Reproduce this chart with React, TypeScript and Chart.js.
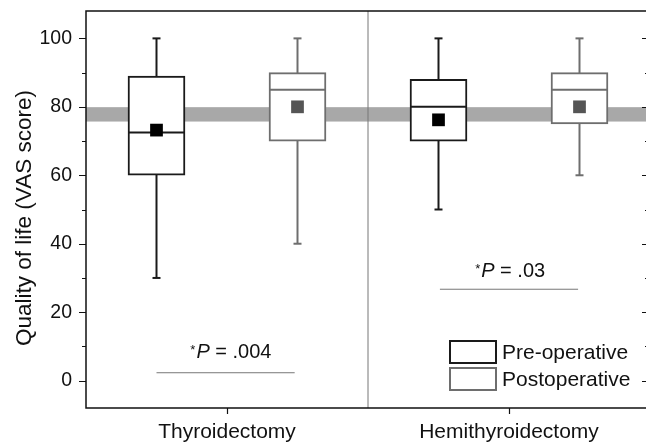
import { useEffect, useRef } from 'react';
import { Chart, registerables } from 'chart.js';

Chart.register(...registerables);

const FONT = '"Liberation Sans", Arial, sans-serif';

// ---- data ----
const categories = ['Thyroidectomy', 'Hemithyroidectomy'];
const categoryPositions = [1, 3];
const boxPositions = [0.5, 1.5, 2.5, 3.5];
const boxGroups = ['Pre-operative', 'Postoperative', 'Pre-operative', 'Postoperative'];
const whiskerLow = [30, 40, 50, 60];
const q1 = [60, 70, 70, 75];
const median = [72.5, 85, 80, 85];
const q3 = [89, 90, 88, 90];
const whiskerHigh = [100, 100, 100, 100];
const means = [73.2, 80, 76.2, 80];
const referenceBand = [75.7, 79.9];
const yTicks = [0, 20, 40, 60, 80, 100];
const yMinorTicks = [10, 30, 50, 70, 90];
const dividerX = 2;
const pValues = ['.004', '.03'];
const pTextX = [0.74, 2.76];
const pTextY = [6.5, 30.4];
const pLineX = [[0.5, 1.48], [2.51, 3.49]];
const pLineY = [2.3, 26.7];
const legendLabels = ['Pre-operative', 'Postoperative'];
const yTitle = 'Quality of life (VAS score)';

const PRE = '#1a1a1a';
const POST = '#6e6e6e';
const boxColors = boxGroups.map((g) => (g === 'Pre-operative' ? PRE : POST));
const meanColors = boxGroups.map((g) => (g === 'Pre-operative' ? '#000000' : '#555555'));

const zeroPad = (s: any) => {
  s.paddingLeft = 0;
  s.paddingRight = 0;
  s.paddingTop = 0;
  s.paddingBottom = 0;
};

const decorPlugin = {
  id: 'decor',
  beforeDatasetsDraw(chart: any) {
    const { ctx, chartArea: a, scales } = chart;
    const y = scales.y;
    const yt = y.getPixelForValue(referenceBand[1]);
    const yb = y.getPixelForValue(referenceBand[0]);
    ctx.save();
    ctx.fillStyle = '#a8a8a8';
    ctx.fillRect(a.left, yt, a.right - a.left, yb - yt);
    ctx.restore();
  },
  afterDraw(chart: any) {
    const { ctx, chartArea: a, scales } = chart;
    const x = scales.x;
    const y = scales.y;
    ctx.save();
    // frame
    ctx.strokeStyle = '#111';
    ctx.lineWidth = 1.5;
    ctx.beginPath();
    ctx.moveTo(a.right, a.top);
    ctx.lineTo(a.left, a.top);
    ctx.lineTo(a.left, a.bottom);
    ctx.lineTo(a.right, a.bottom);
    ctx.lineTo(a.right, a.top);
    ctx.stroke();
    // y ticks
    ctx.lineWidth = 1.2;
    ctx.beginPath();
    yTicks.forEach((v) => {
      const py = Math.round(y.getPixelForValue(v)) + 0.5;
      ctx.moveTo(a.left - 7, py);
      ctx.lineTo(a.left, py);
      ctx.moveTo(a.right - 8, py);
      ctx.lineTo(a.right, py);
    });
    yMinorTicks.forEach((v) => {
      const py = Math.round(y.getPixelForValue(v)) + 0.5;
      ctx.moveTo(a.left - 4, py);
      ctx.lineTo(a.left, py);
      ctx.moveTo(a.right - 5, py);
      ctx.lineTo(a.right, py);
    });
    // x ticks
    categoryPositions.forEach((v) => {
      const px = Math.round(x.getPixelForValue(v)) + 0.5;
      ctx.moveTo(px, a.bottom);
      ctx.lineTo(px, a.bottom + 6);
    });
    ctx.stroke();

    // y title
    ctx.fillStyle = '#111';
    ctx.save();
    ctx.translate(25, 218);
    ctx.rotate(-Math.PI / 2);
    ctx.font = `22.5px ${FONT}`;
    ctx.textAlign = 'center';
    ctx.textBaseline = 'middle';
    ctx.fillText(yTitle, 0, 0);
    ctx.restore();

    // p-value texts
    ctx.textAlign = 'left';
    ctx.textBaseline = 'alphabetic';
    pValues.forEach((pv, i) => {
      let px = x.getPixelForValue(pTextX[i]);
      const py = y.getPixelForValue(pTextY[i]);
      ctx.font = `13px ${FONT}`;
      ctx.fillText('*', px, py - 4);
      px += ctx.measureText('*').width + 1;
      ctx.font = `italic 20px ${FONT}`;
      ctx.fillText('P', px, py);
      px += ctx.measureText('P').width;
      ctx.font = `20px ${FONT}`;
      ctx.fillText(' = ' + pv, px, py);
    });

    // legend
    const lx = 450;
    const ly = [341, 368];
    const lcolors = [PRE, POST];
    legendLabels.forEach((lab, i) => {
      ctx.strokeStyle = lcolors[i];
      ctx.lineWidth = 2;
      ctx.fillStyle = '#fff';
      ctx.fillRect(lx, ly[i], 46, 22);
      ctx.strokeRect(lx, ly[i], 46, 22);
      ctx.fillStyle = '#111';
      ctx.font = `21px ${FONT}`;
      ctx.textBaseline = 'middle';
      ctx.fillText(lab, 502, ly[i] + 12);
    });
    ctx.restore();
  },
};

export default function App() {
  const ref = useRef<HTMLCanvasElement | null>(null);

  useEffect(() => {
    document.body.style.margin = '0';
    if (!ref.current) return;
    Chart.defaults.font.family = FONT;

    const datasets: any[] = [];
    datasets.push({
      type: 'line',
      data: boxPositions.map((bx, i) => ({ x: bx, y: means[i] })),
      showLine: false,
      pointStyle: 'rect',
      pointRadius: 9,
      pointBackgroundColor: meanColors,
      pointBorderWidth: 0,
      order: 0,
    });
    datasets.push({
      type: 'line',
      data: boxPositions.map((bx, i) => ({ x: bx, y: median[i] })),
      showLine: false,
      pointStyle: 'line',
      pointRadius: 28,
      pointBorderWidth: 2,
      pointBorderColor: boxColors,
      order: 1,
    });
    datasets.push({
      type: 'bar',
      data: boxPositions.map((bx, i) => ({ x: bx, y: [q1[i], q3[i]] })),
      backgroundColor: '#ffffff',
      borderColor: boxColors,
      borderWidth: 2,
      borderSkipped: false,
      barThickness: 57,
      order: 2,
    });
    boxPositions.forEach((bx, i) => {
      datasets.push({
        type: 'line',
        data: [
          { x: bx, y: whiskerLow[i] },
          { x: bx, y: whiskerHigh[i] },
        ],
        borderColor: boxColors[i],
        borderWidth: 2,
        pointStyle: 'line',
        pointRadius: 4,
        pointBorderWidth: 2,
        pointBorderColor: boxColors[i],
        order: 3,
      });
    });
    pLineX.forEach((xs, i) => {
      datasets.push({
        type: 'line',
        data: [
          { x: xs[0], y: pLineY[i] },
          { x: xs[1], y: pLineY[i] },
        ],
        borderColor: '#777',
        borderWidth: 1,
        pointRadius: 0,
        order: 4,
      });
    });
    datasets.push({
      type: 'line',
      data: [
        { x: dividerX, y: -8 },
        { x: dividerX, y: 108 },
      ],
      borderColor: '#777',
      borderWidth: 1,
      pointRadius: 0,
      order: 4,
    });

    const chart = new Chart(ref.current, {
      type: 'bar',
      data: { datasets },
      options: {
        animation: false,
        responsive: false,
        layout: { autoPadding: false, padding: { left: 0, right: 2, top: 11, bottom: 0 } },
        plugins: { legend: { display: false }, tooltip: { enabled: false } },
        scales: {
          x: {
            type: 'linear',
            min: 0,
            max: 4,
            offset: false,
            grid: { display: false },
            border: { display: false },
            afterBuildTicks: (s: any) => {
              s.ticks = categoryPositions.map((v) => ({ value: v }));
            },
            afterFit: (s: any) => {
              s.height = 36;
              zeroPad(s);
            },
            ticks: {
              autoSkip: false,
              maxRotation: 0,
              padding: 4,
              color: '#111',
              font: { size: 21, family: FONT },
              callback: (v: any) => {
                const idx = categoryPositions.indexOf(Number(v));
                return idx >= 0 ? categories[idx] : '';
              },
            },
          },
          y: {
            type: 'linear',
            min: -8,
            max: 108,
            grid: { display: false },
            border: { display: false },
            afterBuildTicks: (s: any) => {
              s.ticks = yTicks.map((v) => ({ value: v }));
            },
            afterFit: (s: any) => {
              s.width = 86;
              zeroPad(s);
            },
            ticks: {
              padding: 6,
              color: '#111',
              font: { size: 19.5, family: FONT },
            },
          },
        },
      } as any,
      plugins: [decorPlugin],
    });
    return () => chart.destroy();
  }, []);

  return (
    <div style={{ width: 646, height: 444, overflow: 'hidden', position: 'relative', background: '#fff' }}>
      <canvas ref={ref} width={652} height={444} style={{ display: 'block' }} />
    </div>
  );
}
